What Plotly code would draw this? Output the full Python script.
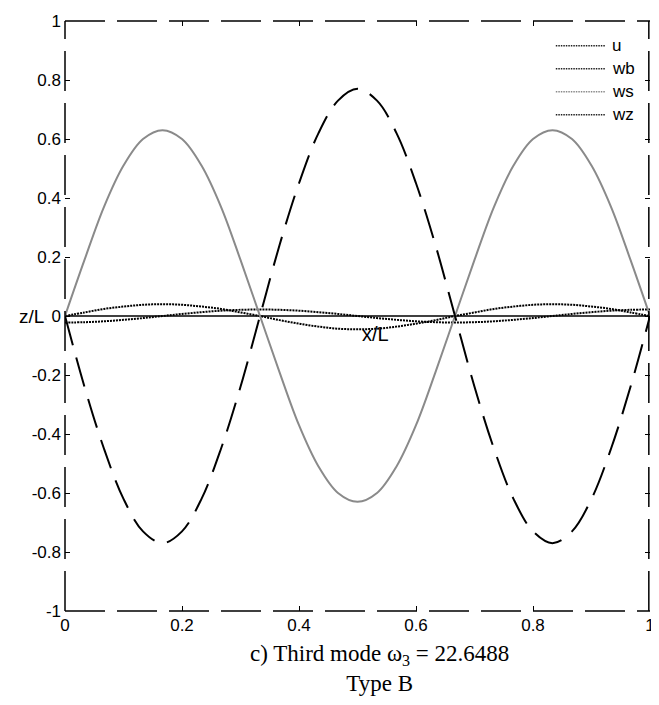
import plotly.graph_objects as go

# x/L sample positions (k/30)
x_vals = [k / 30 for k in range(31)]

# mode shape components
wz = [0, -0.24, -0.45, -0.62, -0.73, -0.77, -0.73, -0.62, -0.45, -0.24,
      0, 0.24, 0.45, 0.62, 0.73, 0.77, 0.73, 0.62, 0.45, 0.24,
      0, -0.24, -0.45, -0.62, -0.73, -0.77, -0.73, -0.62, -0.45, -0.24, 0]
ws = [0, 0.19, 0.37, 0.51, 0.60, 0.63, 0.60, 0.51, 0.37, 0.19,
      0, -0.19, -0.37, -0.51, -0.60, -0.63, -0.60, -0.51, -0.37, -0.19,
      0, 0.19, 0.37, 0.51, 0.60, 0.63, 0.60, 0.51, 0.37, 0.19, 0]
wb = [0, 0.012, 0.024, 0.032, 0.038, 0.04, 0.038, 0.032, 0.024, 0.012,
      0, -0.014, -0.026, -0.036, -0.043, -0.045, -0.043, -0.036, -0.026, -0.014,
      0, 0.012, 0.024, 0.032, 0.038, 0.04, 0.038, 0.032, 0.024, 0.012, 0]
u = [-0.022, -0.021, -0.018, -0.013, -0.007, 0, 0.007, 0.013, 0.018, 0.021,
     0.022, 0.021, 0.018, 0.013, 0.007, 0, -0.007, -0.013, -0.018, -0.021,
     -0.022, -0.021, -0.018, -0.013, -0.007, 0, 0.007, 0.013, 0.018, 0.021, 0.022]

legend_names = ["u", "wb", "ws", "wz"]
x_ticks = [0, 0.2, 0.4, 0.6, 0.8, 1]
x_ticktext = ["0", "0.2", "0.4", "0.6", "0.8", "1"]
y_ticks = [-1, -0.8, -0.6, -0.4, -0.2, 0, 0.2, 0.4, 0.6, 0.8, 1]
y_ticktext = ["-1", "-0.8", "-0.6", "-0.4", "-0.2", "0", "0.2", "0.4", "0.6", "0.8", "1"]

fig = go.Figure()

# zero line
fig.add_trace(go.Scatter(x=[0, 1], y=[0, 0], mode="lines",
                         line=dict(color="black", width=1.5), showlegend=False, hoverinfo="skip"))

fig.add_trace(go.Scatter(x=x_vals, y=u, mode="lines", line_shape="spline", name="u",
                         line=dict(color="black", width=2, dash="2px,1px"), showlegend=False))
fig.add_trace(go.Scatter(x=x_vals, y=wb, mode="lines", line_shape="spline", name="wb",
                         line=dict(color="black", width=2, dash="2px,1px"), showlegend=False))
fig.add_trace(go.Scatter(x=x_vals, y=ws, mode="lines", line_shape="spline", name="ws",
                         line=dict(color="#8a8a8a", width=2), showlegend=False))
fig.add_trace(go.Scatter(x=x_vals, y=wz, mode="lines", line_shape="spline", name="wz",
                         line=dict(color="black", width=2, dash="30px,13px"), showlegend=False))

# legend drawn as in the reference (dotted samples, no box)
leg_colors = ["#222222", "#222222", "#8a8a8a", "#222222"]
leg_y = [0.958, 0.919, 0.880, 0.841]
for name, col, ly in zip(legend_names, leg_colors, leg_y):
    fig.add_shape(type="line", xref="paper", yref="paper", x0=0.839, x1=0.924, y0=ly, y1=ly,
                  line=dict(color=col, width=1.5, dash="1.5px,1px"))
    fig.add_annotation(text=name, xref="paper", yref="paper", x=0.932, y=ly,
                       xanchor="left", yanchor="middle", showarrow=False,
                       font=dict(size=17, color="black"))

# dashed frame
frame = dict(color="black", width=1.5, dash="40px,12px")
for x0, y0, x1, y1 in [(0, 0, 1, 0), (0, 1, 1, 1), (0, 0, 0, 1), (0.998, 0, 0.998, 1)]:
    fig.add_shape(type="line", xref="paper", yref="paper", x0=x0, y0=y0, x1=x1, y1=y1,
                  line=frame)

fig.add_annotation(text="z/L", xref="paper", yref="y", x=-0.033, y=0, xanchor="right",
                   yanchor="middle", showarrow=False, font=dict(size=19, color="black"))
fig.add_annotation(text="x/L", xref="x", yref="y", x=0.53, y=-0.06, showarrow=False,
                   font=dict(size=20, color="black"))
fig.add_annotation(text="c) Third mode ω<sub>3</sub> = 22.6488<br>Type B",
                   xref="paper", yref="paper", x=0.537, y=-0.047,
                   xanchor="center", yanchor="top", align="center", showarrow=False,
                   font=dict(family="Liberation Serif", size=23, color="black"))

fig.update_layout(
    width=651, height=689, autosize=False,
    margin=dict(l=57, r=4, t=12, b=86),
    paper_bgcolor="white", plot_bgcolor="white",
    font=dict(family="Liberation Sans, Arial, sans-serif", size=17, color="black"),
    showlegend=False,
    xaxis=dict(range=[0, 1], tickvals=x_ticks, ticktext=x_ticktext, ticks="inside",
               ticklen=5, tickcolor="black", showgrid=False, zeroline=False,
               showline=False, mirror="ticks", fixedrange=True, ticklabelstandoff=2,
               ticklabeloverflow="allow"),
    yaxis=dict(range=[-1, 1], tickvals=y_ticks, ticktext=y_ticktext, ticks="inside",
               ticklen=5, tickcolor="black", showgrid=False, zeroline=False,
               showline=False, mirror="ticks", fixedrange=True, ticklabelstandoff=3),
)

fig.write_html("out.html")
